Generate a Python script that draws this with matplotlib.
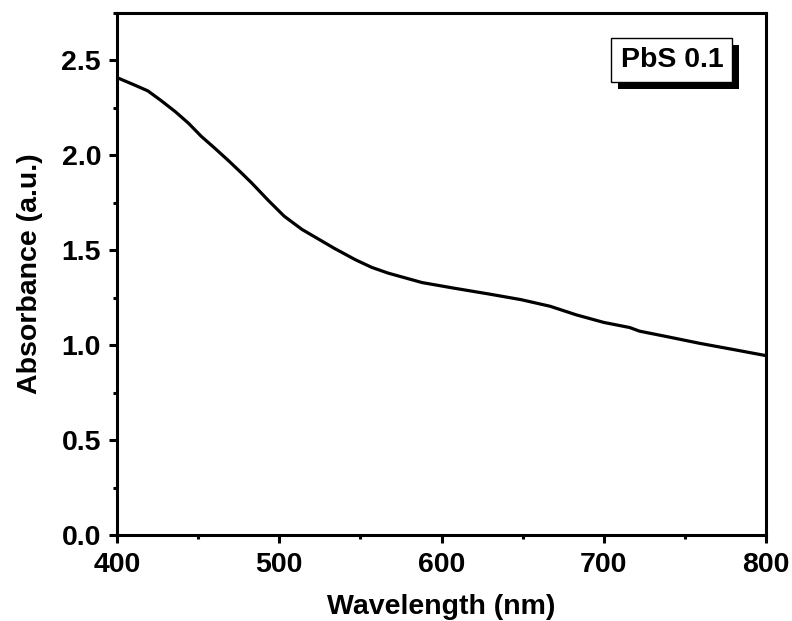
import matplotlib
matplotlib.use("Agg")
import matplotlib.pyplot as plt
import matplotlib.patheffects as pe
from matplotlib.ticker import MultipleLocator

# spectre d'absorption
wavelength = [400, 411, 419, 427, 436, 444, 452, 460, 469, 477, 483, 493,
              503, 514, 524, 534, 547, 557, 567, 588, 608, 629, 649, 667,
              683, 700, 716, 722, 739, 759, 780, 800]
absorbance = [2.41, 2.37, 2.34, 2.29, 2.23, 2.17, 2.10, 2.04, 1.97, 1.905,
              1.855, 1.765, 1.68, 1.61, 1.56, 1.51, 1.45, 1.41, 1.38, 1.33,
              1.30, 1.27, 1.24, 1.205, 1.16, 1.12, 1.093, 1.074, 1.045, 1.01,
              0.977, 0.945]
label = "PbS 0.1"

plt.rcParams["font.family"] = ["Liberation Sans", "DejaVu Sans"]
plt.rcParams["font.weight"] = "bold"

fig = plt.figure(figsize=(7.92, 6.21), dpi=100)
ax = fig.add_axes([0.1477, 0.1385, 0.8195, 0.8405])

ax.plot(wavelength, absorbance, color="black", linewidth=2.3)

ax.set_xlim(400, 800)
ax.set_ylim(0, 2.75)
ax.xaxis.set_major_locator(MultipleLocator(100))
ax.xaxis.set_minor_locator(MultipleLocator(50))
ax.yaxis.set_major_locator(MultipleLocator(0.5))
ax.yaxis.set_minor_locator(MultipleLocator(0.25))
ax.tick_params(which="both", direction="out", width=2.2, labelsize=20.5,
               top=False, right=False)
ax.tick_params(which="major", length=5.5)
ax.tick_params(which="minor", length=3)
ax.tick_params(axis="x", which="major", pad=7)
ax.tick_params(axis="y", which="major", pad=6)
for s in ax.spines.values():
    s.set_linewidth(2.2)

ax.set_xlabel("Wavelength (nm)", fontsize=20.5, fontweight="bold", labelpad=11)
ax.set_ylabel("Absorbance (a.u.)", fontsize=20.5, fontweight="bold", labelpad=13)

t = ax.text(0.855, 0.91, label, transform=ax.transAxes, fontsize=20.5,
            fontweight="bold", ha="center", va="center",
            bbox=dict(boxstyle="square,pad=0.32", facecolor="white",
                      edgecolor="black", linewidth=1))
t.get_bbox_patch().set_path_effects([
    pe.SimplePatchShadow(offset=(5, -5), shadow_rgbFace="black", alpha=1),
    pe.Normal()])

fig.savefig("out.png", dpi=100)
